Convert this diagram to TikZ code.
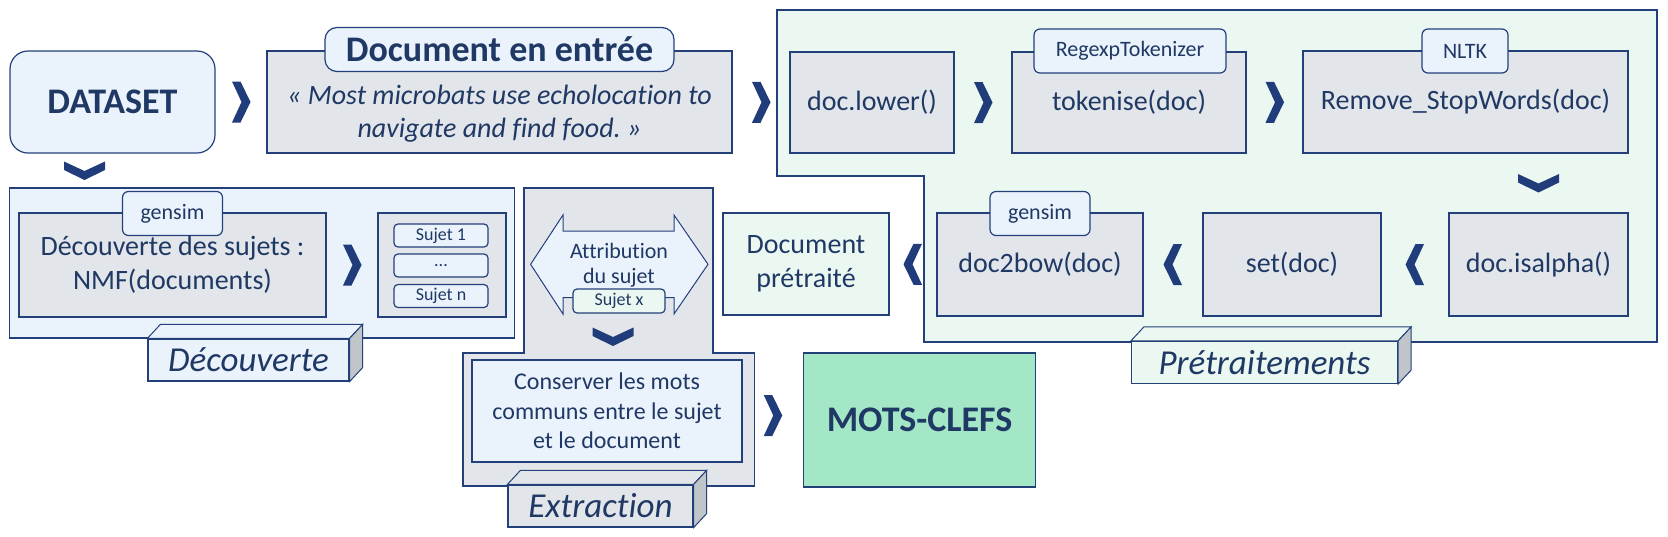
\documentclass[tikz,border=0pt]{standalone}
\usepackage{fontspec}
\setmainfont{Carlito}[Ligatures=NoCommon]
\usetikzlibrary{calc}
\frenchspacing

\definecolor{navy}{HTML}{1F3864}
\definecolor{edge}{HTML}{24407A}
\definecolor{chevcol}{HTML}{203C7A}
\definecolor{bluebg}{HTML}{EAF2FC}
\definecolor{graybg}{HTML}{E2E6EA}
\definecolor{greenbg}{HTML}{EBF8F2}
\definecolor{mint}{HTML}{A3E7C7}
\definecolor{sidegray}{HTML}{BFC5C9}

\tikzset{
  zone/.style={draw=edge, line width=0.6pt},
  box/.style 2 args={draw=edge, line width=0.6pt, text=navy, inner sep=0pt, align=center,
    minimum width=#1*0.5pt, minimum height=#2*0.5pt},
  tab/.style={box={#1}{44}, fill=bluebg, rounded corners=3pt, font=\fontsize{11}{13}\selectfont},
  small/.style={box={94}{23}, fill=bluebg, rounded corners=2pt, font=\fontsize{9}{10}\selectfont},
  lbl/.style={box={#1}{42}, font=\fontsize{17.5}{20}\selectfont\itshape},
  big/.style={font=\fontsize{18}{22}\selectfont\bfseries},
  main/.style={font=\fontsize{14}{17}\selectfont},
  chev/.pic={\fill[chevcol] (-9,-20.5) -- (-0.5,-20.5) -- (9.5,0) -- (-0.5,20.5) -- (-9,20.5) -- (0.5,0) -- cycle;}
}

% top and side faces of a label block
\newcommand{\blocklabel}[2]{%
  \filldraw[draw=edge, line width=0.5pt, fill=#2] (#1.north west) -- ++(13,-14)
    -- ($(#1.north east)+(13,-14)$) -- (#1.north east) -- cycle;
  \filldraw[draw=edge, line width=0.5pt, fill=sidegray] (#1.north east) -- ++(13,-14)
    -- ($(#1.south east)+(13,-14)$) -- (#1.south east) -- cycle;
}

\begin{document}
\begin{tikzpicture}[x=0.5pt,y=-0.5pt]
\useasboundingbox (0,0) rectangle (1668,536);

% zones
\filldraw[zone, fill=greenbg] (777,10) -- (1657,10) -- (1657,342) -- (924,342) -- (924,176) -- (777,176) -- cycle;
\filldraw[zone, fill=graybg] (524,188) -- (713,188) -- (713,353) -- (754.5,353) -- (754.5,486) -- (463,486) -- (463,353) -- (524,353) -- cycle;
\node[box={505}{150}, fill=bluebg] (decouv) at (262,263) {};

% input
\node[box={205}{102}, fill=bluebg, rounded corners=9pt, big] (dataset) at (112.5,102) {DATASET};
\node[box={465}{102}, fill=graybg] (docin) at (499.5,102) {};
\node[tab={349}, big, rounded corners=6pt] (docintab) at (499.5,49.5) {Document en entrée};
\node[main, text=navy, align=center, font=\fontsize{14}{16.5}\selectfont\itshape] (quote) at (499.5,114)
  {« Most microbats use echolocation to\\navigate and find food. »};

% preprocessing
\node[box={164}{101}, fill=graybg, main] (lower) at (872,102.5) {doc.lower()};
\node[box={234}{101}, fill=graybg, main] (token) at (1129,102.5) {tokenise(doc)};
\node[tab={192}] (tokentab) at (1130,51) {RegexpTokenizer};
\node[box={325}{102}, fill=graybg, main] (stopw) at (1465.5,102) {Remove\_StopWords(doc)};
\node[tab={86}] (stopwtab) at (1465,51) {NLTK};
\node[box={179}{103}, fill=graybg, main] (alpha) at (1538.5,264.5) {doc.isalpha()};
\node[box={178}{103}, fill=graybg, main] (setdoc) at (1292,264.5) {set(doc)};
\node[box={206}{103}, fill=graybg, main] (bow) at (1040,264.5) {doc2bow(doc)};
\node[tab={100}] (bowtab) at (1040,213.5) {gensim};
\node[box={166}{102}, fill=greenbg, main] (docpre) at (806,264) {Document\\prétraité};

% topic discovery
\node[box={307}{104}, fill=graybg, main] (nmf) at (172.5,265) {Découverte des sujets :\\NMF(documents)};
\node[tab={100}] (nmftab) at (172.5,213.5) {gensim};
\node[box={128}{104}, fill=graybg] (sujets) at (442,265) {};
\node[small] (sujet1) at (441,235.5) {Sujet 1};
\node[small] (sujetdots) at (441,265.5) {...};
\node[small] (sujetn) at (441,296) {Sujet n};

% extraction
\filldraw[draw=edge, fill=bluebg, line width=0.5pt] (530.6,264.3) -- (563,215) -- (563,231) -- (674,231) -- (674,215)
  -- (708,264.3) -- (674,314) -- (674,297.7) -- (563,297.7) -- (563,314) -- cycle;
\node[text=navy, align=center, font=\fontsize{11}{12.5}\selectfont] (attrib) at (619,265) {Attribution\\du sujet};
\node[small, box={92}{24}, fill=greenbg] (sujetx) at (619,301) {Sujet x};
\node[box={270}{102}, fill=bluebg, font=\fontsize{12}{14.75}\selectfont] (keep) at (607,411)
  {Conserver les mots\\communs entre le sujet\\et le document};
\node[box={232}{134}, fill=mint, big] (keys) at (919.5,420) {MOTS-CLEFS};

% block labels
\node[lbl=201, fill=bluebg] (decouvlbl) at (248.5,360) {Découverte};
\blocklabel{decouvlbl}{bluebg}
\node[lbl=266, fill=greenbg] (pretlbl) at (1264.5,362.5) {Prétraitements};
\blocklabel{pretlbl}{greenbg}
\node[lbl=185, fill=graybg] (extrlbl) at (600.5,506) {Extraction};
\blocklabel{extrlbl}{graybg}

% chevrons
\pic at ($(dataset.east)!.5!(docin.west)$) {chev};
\pic at ($(docin.east)!.5!(lower.west)$) {chev};
\pic at ($(lower.east)!.5!(token.west)$) {chev};
\pic at ($(token.east)!.5!(stopw.west)$) {chev};
\pic[rotate=-90] at ($(alpha.north)!.5!(alpha.north |- stopw.south)$) {chev};
\pic[rotate=180] at ($(alpha.west)!.5!(setdoc.east)$) {chev};
\pic[rotate=180] at ($(setdoc.west)!.5!(bow.east)$) {chev};
\pic[rotate=180] at ($(bow.west)!.5!(docpre.east)$) {chev};
\pic[rotate=-90] at ($(dataset.south)!.5!(dataset.south |- decouv.north)+(-28,0)$) {chev};
\pic at ($(nmf.east)!.5!(sujets.west)$) {chev};
\pic[rotate=-90] at ($(sujetx.south)!.5!(keep.north)$) {chev};
\pic at ($(keep.east)!.5!(keys.west)$) {chev};
\end{tikzpicture}
\end{document}
